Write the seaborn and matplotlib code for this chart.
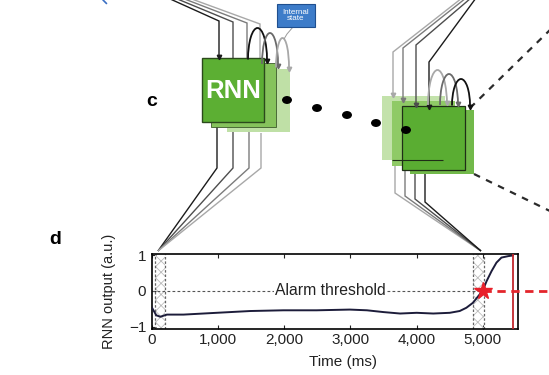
import matplotlib
matplotlib.use("Agg")
import matplotlib.pyplot as plt
import pandas as pd
import seaborn as sns
from matplotlib.patches import Rectangle, Arc, Ellipse, FancyBboxPatch

# ---- RNN read-out trace (d) ----
time_ms = [0, 20, 70, 130, 230, 480, 980, 1490, 1990, 2490, 2990, 3250, 3500,
           3750, 4000, 4250, 4500, 4650, 4750, 4850, 4950, 5005, 5055, 5130,
           5205, 5280, 5380, 5455]
rnn_output = [-0.45, -0.52, -0.68, -0.72, -0.66, -0.66, -0.61, -0.56, -0.54,
              -0.54, -0.52, -0.54, -0.59, -0.63, -0.61, -0.63, -0.61, -0.56,
              -0.47, -0.33, -0.10, 0.04, 0.27, 0.55, 0.79, 0.93, 0.97, 0.99]

x_ticks = [0, 1000, 2000, 3000, 4000, 5000]
x_tick_labels = ["0", "1,000", "2,000", "3,000", "4,000", "5,000"]
y_ticks = [-1, 0, 1]
y_tick_labels = ["\u22121", "0", "1"]

alarm_threshold = 0.0
alarm_time_ms = 5000
stop_time_ms = 5457
first_window_ms = [50, 200]
last_window_ms = [4850, 5010]

sns.set_theme(style="white")
plt.rcParams["font.family"] = ["Liberation Sans", "DejaVu Sans"]
plt.rcParams["hatch.linewidth"] = 0.6

W, H = 549, 375
fig = plt.figure(figsize=(W / 100, H / 100), dpi=100)

# schematic layer in pixel units (y grows downward)
sch = fig.add_axes([0, 0, 1, 1], zorder=1)
sch.set_xlim(0, W)
sch.set_ylim(H, 0)
sch.axis("off")
sch.patch.set_alpha(0)

# trace axes
ax_l, ax_r, ax_t, ax_b = 151.7, 518.0, 254.0, 329.3
ax = fig.add_axes([ax_l / W, 1 - ax_b / H, (ax_r - ax_l) / W, (ax_b - ax_t) / H],
                  zorder=2)

DARK = ["#1b1b1b", "#4d4d4d", "#7b7b7b", "#a8a8a8"]


def polyline(pts, color, lw=1.0, z=1):
    xs, ys = zip(*pts)
    sch.plot(xs, ys, color=color, lw=lw, zorder=z, solid_joinstyle="miter",
             solid_capstyle="butt")


def head(x, y, color, z=4):
    sch.plot([x], [y], marker="v", ms=3.2, color=color, mec=color, zorder=z)


def loop(x1, y1, x2, y2, peak, color, lw=1.3):
    base = (y1 + y2) / 2
    sch.add_patch(Arc(((x1 + x2) / 2, base), x2 - x1, 2 * (base - peak),
                      theta1=180, theta2=360, color=color, lw=lw, zorder=4))
    head(x2, y2, color)


def box(x0, y0, x1, y1, fc, ec="none", lw=0.0, z=2):
    sch.add_patch(Rectangle((x0, y0), x1 - x0, y1 - y0, facecolor=fc,
                            edgecolor=ec, lw=lw, zorder=z))


# ---- left RNN stack ----
left_top = [((168, -2), (219, 21)), ((175, -2), (233, 22)),
            ((182, -2), (247, 23)), ((189, -2), (260, 24))]
for (s, c), col in zip(left_top, DARK):
    polyline([s, c, (c[0], 58)], col)
head(219, 57, DARK[0])

left_bottom_x = [217, 233, 249, 261]
left_bottom_y = [122, 126, 130, 133]
for x, y, col in zip(left_bottom_x, left_bottom_y, DARK):
    polyline([(x, y), (x, 168), (158, 251)], col)

box(227, 69, 290, 132, "#bfe0a6", z=2)
box(211, 63, 276, 127, "#86c35c", ec="#3d5a2c", lw=0.6, z=2.1)
box(201.7, 58.3, 264, 121.7, "#5caf33", ec="#2c4a1c", lw=1.0, z=2.2)
sch.text(233, 91, "RNN", color="white", fontsize=18.5, fontweight="bold",
         ha="center", va="center", zorder=5)

loop(248, 58, 267, 61, 28, "#111111")
loop(262, 62, 278, 66, 33, "#6a6a6a")
loop(276, 66, 289, 69, 38, "#a8a8a8")

sch.add_patch(FancyBboxPatch((277, 4), 38, 23, boxstyle="square,pad=0",
                             fc="#3d7cc9", ec="#1f4f8f", lw=0.8, zorder=5))
sch.text(296, 15.5, "Internal\nstate", color="white", fontsize=5.8,
         ha="center", va="center", linespacing=0.95, zorder=6)
polyline([(293, 27), (287, 34), (284, 39)], "#9a9a9a", lw=0.7, z=4)
sch.plot([103, 106.5], [0, 3.5], color="#3a6fc4", lw=1.2, zorder=3)

# ---- unrolled-in-time dots ----
for x, y in [(287, 100), (317, 108), (347, 115), (376, 123), (406, 130)]:
    sch.add_patch(Ellipse((x, y), 8.5, 6.5, color="black", zorder=6))

# ---- right RNN stack ----
box(382, 96, 445, 160, "#c3e2ab", z=2)
box(392, 101, 455, 166, "#8fca66", z=2.1)
box(410, 110, 474, 174, "#72b94a", z=2.2)
box(402, 106, 465, 170, "#5aad32", ec="#1f2e17", lw=0.9, z=2.3)
polyline([(392, 160), (443, 160)], "#1f2e17", lw=0.8, z=2.4)

RIGHT = DARK[::-1]
right_top = [((462, -2), (393, 52)), ((466, -2), (403, 48)),
             ((471, -2), (416, 45)), ((476, -2), (429, 62))]
right_top_end = [96, 101, 106, 108]
for (s, c), yend, col in zip(right_top, right_top_end, RIGHT):
    polyline([s, c, (c[0], yend)], col, z=3)
    head(c[0], yend - 1, col)

loop(428, 107, 447, 103, 70, "#a8a8a8")
loop(440, 106, 458, 104, 74, "#6a6a6a")
loop(452, 104, 470, 107, 79, "#111111")

right_bottom_x = [395, 405, 415, 425]
right_bottom_y = [160, 166, 170, 172]
right_kink = [193, 196, 199, 202]
for x, y, k, col in zip(right_bottom_x, right_bottom_y, right_kink, RIGHT):
    polyline([(x, y), (x, k), (481, 251)], col)

for p0, p1 in [((470, 108), (552, 28)), ((474, 174), (552, 212))]:
    sch.plot([p0[0], p1[0]], [p0[1], p1[1]], color="#2b2b2b", lw=1.6,
             dashes=(3, 3), zorder=3)

sch.text(152, 102, "c", fontsize=14, fontweight="bold", ha="center",
         va="center", color="black")
sch.text(55, 239, "d", fontsize=14, fontweight="bold", ha="center",
         va="center", color="black")

# ---- trace panel ----
df = pd.DataFrame({"time": time_ms, "output": rnn_output})

for lo, hi in (first_window_ms, last_window_ms):
    ax.axvspan(lo, hi, facecolor="none", edgecolor="#bcbcbc", hatch="xxx",
               lw=0, zorder=1)
    for xv in (lo, hi):
        ax.axvline(xv, color="#666666", lw=0.9, ls=(0, (2, 1.5)), zorder=1.5)

ax.plot([0, alarm_time_ms], [alarm_threshold, alarm_threshold], color="#555555",
        lw=0.8, ls=(0, (2.5, 2)), zorder=2)
ax.text(2700, alarm_threshold, "Alarm threshold", fontsize=11.3, ha="center",
        va="center", color="#222222", zorder=3,
        bbox=dict(facecolor="white", edgecolor="none", pad=1.0))

sns.lineplot(data=df, x="time", y="output", ax=ax, color="#1c1c3a", lw=1.4,
             zorder=4)

ax.axvline(stop_time_ms, color="#c2272d", lw=1.3, zorder=4)
ax.plot([alarm_time_ms, 6150], [alarm_threshold, alarm_threshold],
        color="#e3252b", lw=2.0, dashes=(3, 2), clip_on=False, zorder=5)
ax.plot([alarm_time_ms], [alarm_threshold], marker="*", ms=13, color="#e8202a",
        mec="#e8202a", clip_on=False, zorder=6)

ax.set_xlim(0, 5530)
ax.set_ylim(-1.07, 1.03)
ax.set_xticks(x_ticks)
ax.set_xticklabels(x_tick_labels)
ax.set_yticks(y_ticks)
ax.set_yticklabels(y_tick_labels)
ax.tick_params(axis="x", direction="in", length=3, width=0.8, top=True,
               bottom=True, labelsize=11, pad=3, colors="#222222")
ax.tick_params(axis="y", direction="in", length=3, width=0.8, left=True,
               labelsize=11, pad=4, colors="#222222")
for sp in ax.spines.values():
    sp.set_color("black")
    sp.set_linewidth(1.2)
ax.set_facecolor("white")
ax.set_xlabel("Time (ms)", fontsize=11, color="#222222")
ax.set_ylabel("RNN output (a.u.)", fontsize=10.5, color="#222222")
ax.xaxis.set_label_coords(0.522, -0.34)
ax.yaxis.set_label_coords(-0.097, 0.5)

fig.savefig("out.png", dpi=100, facecolor="white")
